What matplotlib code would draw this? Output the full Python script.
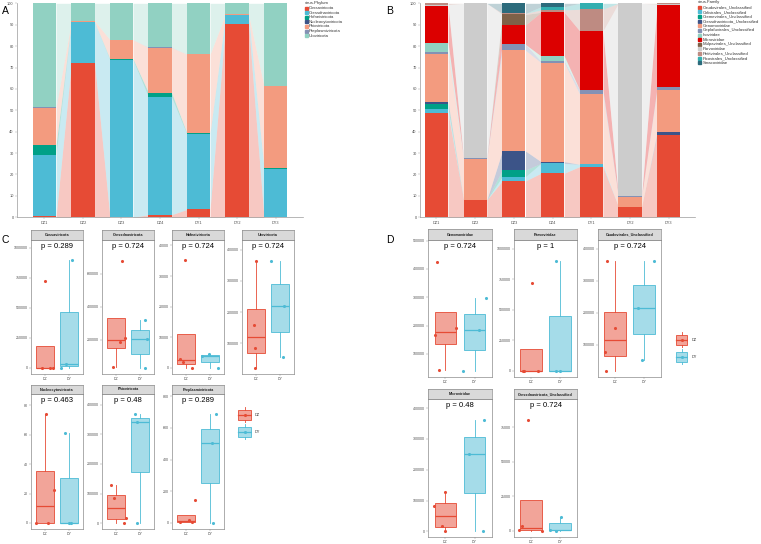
import numpy as np
import matplotlib
matplotlib.use('Agg')
import matplotlib.pyplot as plt
from matplotlib.patches import Rectangle

plt.rcParams['font.family'] = ['Liberation Sans', 'DejaVu Sans']

W, H = 761, 544

# ---------------- data ----------------
samples = ['DZ1', 'DZ2', 'DZ3', 'DZ4', 'DY1', 'DY2', 'DY3']

# Panel A: relative abundance (%) per phylum
phylum_names = ['Cossaviricota', 'Cressdnaviricota', 'Hofneiviricota', 'Nucleocytoviricota',
                'Phixviricota', 'Preplasmiviricota', 'Uroviricota']
cossaviricota = [0.4, 72.3, 0.0, 1.2, 3.7, 90.3, 0.0]
cressdnaviricota = [28.7, 19.1, 73.5, 55.0, 35.1, 4.2, 22.4]
hofneiviricota = [4.7, 0.0, 0.5, 2.1, 0.5, 0.0, 0.6]
nucleocytoviricota = [0.0, 0.0, 0.0, 0.0, 0.0, 0.0, 0.0]
phixviricota = [17.4, 0.4, 9.0, 21.0, 36.9, 0.3, 38.4]
preplasmiviricota = [0.2, 0.0, 0.0, 0.2, 0.0, 0.0, 0.0]
uroviricota = [48.6, 8.2, 17.0, 20.5, 23.8, 5.2, 38.6]
phylum_series = [cossaviricota, cressdnaviricota, hofneiviricota, nucleocytoviricota,
                 phixviricota, preplasmiviricota, uroviricota]

# Panel B: relative abundance (%) per family
family_names = ['Caudovirales_Unclassified', 'Cirlivirales_Unclassified', 'Cremevirales_Unclassified',
                'Cressdnaviricota_Unclassified', 'Genomoviridae', 'Geplafuvirales_Unclassified',
                'Inoviridae', 'Microviridae', 'Mulpavirales_Unclassified', 'Parvoviridae',
                'Petitvirales_Unclassified', 'Picovirales_Unclassified', 'Smacoviridae']
caudovirales_unc = [48.6, 8.1, 17.0, 20.6, 23.7, 5.0, 38.5]
cirlivirales_unc = [2.2, 0.0, 2.0, 4.6, 1.1, 0.0, 0.0]
cremevirales_unc = [2.2, 0.0, 3.1, 0.0, 0.0, 0.0, 0.0]
cressdnaviricota_unc = [0.9, 0.0, 8.9, 0.8, 0.0, 0.0, 1.2]
genomoviridae = [22.3, 19.0, 47.0, 46.3, 32.7, 4.3, 19.8]
geplafuvirales_unc = [0.9, 0.5, 2.8, 0.7, 2.0, 0.5, 1.2]
inoviridae = [4.5, 0.0, 0.0, 2.4, 0.0, 0.0, 0.0]
microviridae = [17.3, 0.0, 9.1, 20.4, 27.6, 0.0, 38.5]
mulpavirales_unc = [0.0, 0.0, 4.9, 0.0, 0.0, 0.0, 0.0]
parvoviridae = [0.5, 72.4, 0.0, 0.0, 0.0, 90.2, 0.4]
petitvirales_unc = [0.6, 0.0, 0.5, 1.1, 10.1, 0.0, 0.4]
picovirales_unc = [0.0, 0.0, 0.0, 1.5, 2.8, 0.0, 0.0]
smacoviridae = [0.0, 0.0, 4.7, 1.6, 0.0, 0.0, 0.0]
family_series = [caudovirales_unc, cirlivirales_unc, cremevirales_unc, cressdnaviricota_unc,
                 genomoviridae, geplafuvirales_unc, inoviridae, microviridae, mulpavirales_unc,
                 parvoviridae, petitvirales_unc, picovirales_unc, smacoviridae]

groups = ['DZ', 'DY']

# Panel C: abundance per phylum (DZ samples, DY samples), p-values, tick values
c_names = ['Cossaviricota', 'Cressdnaviricota', 'Hofneiviricota', 'Uroviricota',
           'Nucleocytoviricota', 'Phixviricota', 'Preplasmiviricota']
c_dz = [[0, 0, 0, 720000], [38000, 186000, 214000, 680000], [0, 1900, 2950, 35200],
        [20000, 83000, 158000, 365000], [0, 0, 22.7, 74], [2000, 19000, 86500, 130000],
        [3, 5, 16, 146]]
c_dy = [[0, 33000, 897000], [30000, 204000, 320000], [0, 3800, 4500],
        [55000, 219000, 363000], [0, 0, 61.4], [2000, 341000, 367000], [0, 506, 686]]
c_p = ['0.289', '0.724', '0.724', '0.724', '0.463', '0.48', '0.289']
c_ticks = [[0, 250000, 500000, 750000, 1000000], [200000, 400000, 600000],
           [0, 10000, 20000, 30000, 40000], [100000, 200000, 300000, 400000],
           [0, 20, 40, 60, 80], [0, 100000, 200000, 300000, 400000], [0, 200, 400, 600, 800]]

# Panel D: abundance per family
d_names = ['Genomoviridae', 'Parvoviridae', 'Caudovirales_Unclassified', 'Microviridae',
           'Cressdnaviricota_Unclassified']
d_dz = [[42000, 167000, 190000, 425000], [0, 0, 0, 723000], [18000, 78000, 151000, 361000],
        [2000, 16300, 81500, 127000], [0, 500, 3150, 80300]]
d_dy = [[40000, 185000, 298000], [0, 1000, 905000], [51000, 213500, 361000],
        [2000, 250000, 362000], [0, 700, 10000]]
d_p = ['0.724', '1', '0.724', '0.48', '0.724']
d_ticks = [[100000, 200000, 300000, 400000, 500000], [0, 250000, 500000, 750000, 1000000],
           [100000, 200000, 300000, 400000], [0, 100000, 200000, 300000, 400000],
           [0, 25000, 50000, 75000]]

# ---------------- style ----------------
phylum_colors = ['#E64B35', '#4DBBD5', '#00A087', '#3C5488', '#F39B7F', '#8491B4', '#91D1C2']
family_colors = ['#E64B35', '#4DBBD5', '#00A087', '#3C5488', '#F39B7F', '#8491B4', '#91D1C2',
                 '#DC0000', '#7E6148', '#CCCCCC', '#BE8B82', '#33AFB0', '#2C6B7C']
grp_colors = ['#E64B35', '#4DBBD5']

# jitter offsets for the points (horizontal only)
c_jit_dz = [[-0.15, 0.21, 0.35, 0.0], [-0.13, 0.17, 0.39, 0.24], [0.25, -0.13, -0.27, -0.06],
            [-0.03, -0.05, -0.08, 0.0], [-0.38, 0.1, 0.38, 0.02], [0.34, 0.41, -0.1, -0.24],
            [-0.27, 0.24, 0.1, 0.38]]
c_jit_dy = [[-0.35, -0.11, 0.15], [0.23, 0.3, 0.23], [0.34, -0.31, -0.03], [0.13, 0.16, -0.38],
            [0.0, 0.1, -0.18], [-0.14, -0.14, -0.21], [0.13, 0.08, 0.28]]
d_jit_dz = [[-0.21, -0.36, 0.36, -0.29], [-0.3, -0.25, 0.25, 0.02], [-0.33, -0.35, -0.02, -0.29],
            [0.0, -0.13, -0.39, -0.02], [0.39, -0.41, -0.33, -0.12]]
d_jit_dy = [[-0.4, 0.14, 0.38], [-0.14, 0.0, -0.12], [-0.08, -0.22, 0.37],
            [0.28, -0.2, 0.34], [-0.14, -0.33, 0.05]]

fig = plt.figure(figsize=(W / 100, H / 100), dpi=100)
fig.patch.set_facecolor('white')


def rect(l, t, r, b):
    return [l / W, 1 - b / H, (r - l) / W, (b - t) / H]


def fx(x):
    return x / W


def fy(y):
    return 1 - y / H


TXT = '#4D4D4D'


def alluvial(ax, series, colors, width=0.6):
    vals = np.array(series, dtype=float)
    x = np.arange(vals.shape[1])
    tops = np.cumsum(vals, axis=0)
    bots = tops - vals
    for k in range(vals.shape[0]):
        ax.bar(x, vals[k], width, bottom=bots[k], color=colors[k], lw=0, zorder=2)
        for i in range(len(x) - 1):
            if vals[k, i] > 0 or vals[k, i + 1] > 0:
                ax.fill_between([x[i] + width / 2, x[i + 1] - width / 2],
                                [bots[k, i], bots[k, i + 1]], [tops[k, i], tops[k, i + 1]],
                                color=colors[k], alpha=0.3, lw=0, zorder=1)
    ax.set_ylim(0, 100)
    ax.set_yticks(range(0, 101, 10))
    ax.set_xticks(x)
    ax.set_xticklabels(samples)
    for s in ['top', 'right']:
        ax.spines[s].set_visible(False)
    for s in ['left', 'bottom']:
        ax.spines[s].set_color('#9A9A9A')
        ax.spines[s].set_linewidth(0.5)
    ax.tick_params(labelsize=2.8, length=1.2, width=0.3, color='#9A9A9A', labelcolor=TXT, pad=1.2)


# Panel A
axA = fig.add_axes(rect(17, 3.3, 303, 217.3))
alluvial(axA, phylum_series, phylum_colors)
axA.set_xlim(-0.714, 6.714)

# Panel B
axB = fig.add_axes(rect(420, 3.3, 695, 217.3))
alluvial(axB, family_series, family_colors)
axB.set_xlim(-0.426, 6.68)


def legend(x0, y0, title, names, colors, text_x):
    fig.text(fx(x0), fy(y0), title, fontsize=3.1, color='#333333', ha='left', va='center')
    for k, (n, c) in enumerate(zip(names, colors)):
        yc = y0 + 5.4 + 4.62 * k
        fig.patches.append(Rectangle((fx(x0), fy(yc + 1.5)), 3 / W, 3 / H, color=c,
                                     transform=fig.transFigure, figure=fig))
        fig.text(fx(text_x), fy(yc), n, fontsize=3.1, color='#333333', ha='left', va='center')


legend(305, 2.6, 'virus.Phylum', phylum_names, phylum_colors, 309)
legend(698, 1.9, 'virus.Family', family_names, family_colors, 702.7)

for lab, (x, y) in zip('ABCD', [(2, 11), (386, 11), (2, 240), (386, 240)]):
    fig.text(fx(x), fy(y), lab, fontsize=7.5, ha='left', va='center', color='black')


def facet(l, r, st, sb, pb, name, dz, dy, p, ticks, jdz, jdy):
    ax = fig.add_axes(rect(l, sb, r, pb))
    sa = fig.add_axes(rect(l, st, r, sb))
    sa.set_facecolor('#D9D9D9')
    sa.set_xticks([])
    sa.set_yticks([])
    for s in sa.spines.values():
        s.set_color('#8C8C8C')
        s.set_linewidth(0.5)
    sa.text(0.5, 0.5, name, fontsize=2.7, fontweight='bold', ha='center', va='center',
            color='#1A1A1A', transform=sa.transAxes)
    for i, (vals, jit) in enumerate([(dz, jdz), (dy, jdy)]):
        c = grp_colors[i]
        ax.boxplot([vals], positions=[i + 1], widths=0.75, patch_artist=True, showfliers=False,
                   whis=1.5,
                   boxprops=dict(facecolor=matplotlib.colors.to_rgba(c, 0.5), edgecolor=c, lw=0.6),
                   medianprops=dict(color=c, lw=0.9),
                   whiskerprops=dict(color=c, lw=0.6),
                   capprops=dict(visible=False))
        ax.scatter(np.array(jit) + i + 1, vals, s=5, color=c, lw=0, zorder=3)
    allv = list(dz) + list(dy)
    lo = min(allv)
    L = 1.13 * max(allv)
    ax.text(1.5, L, f'p = {p}', fontsize=5.5, ha='center', va='center', color='black')
    rng = L - lo
    ax.set_ylim(lo - 0.05 * rng, L + 0.05 * rng)
    ax.set_xlim(0.4, 2.6)
    ax.set_yticks(ticks)
    ax.set_yticklabels([str(t) for t in ticks])
    ax.set_xticks([1, 2])
    ax.set_xticklabels(groups)
    for s in ax.spines.values():
        s.set_color('#8C8C8C')
        s.set_linewidth(0.5)
    ax.tick_params(labelsize=2.6, length=1.2, width=0.3, color='#8C8C8C', labelcolor=TXT, pad=1.0)


c_cols = [(31, 83), (102, 154), (172, 224), (242, 294)]
c_rows = [(230, 240, 374), (385, 394, 529)]
for k in range(len(c_names)):
    row, col = divmod(k, 4)
    l, r = c_cols[col]
    st, sb, pb = c_rows[row]
    facet(l, r, st, sb, pb, c_names[k], c_dz[k], c_dy[k], c_p[k], c_ticks[k],
          c_jit_dz[k], c_jit_dy[k])

d_cols = [(428, 492), (514, 577), (598, 661)]
d_rows = [(229, 240, 377), (389, 399, 537)]
for k in range(len(d_names)):
    row, col = divmod(k, 3)
    l, r = d_cols[col]
    st, sb, pb = d_rows[row]
    facet(l, r, st, sb, pb, d_names[k], d_dz[k], d_dy[k], d_p[k], d_ticks[k],
          d_jit_dz[k], d_jit_dy[k])


def group_legend(l, r, centers, text_x):
    for i, yc in enumerate(centers):
        c = grp_colors[i]
        ka = fig.add_axes(rect(l, yc - 8, r, yc + 8))
        ka.set_xlim(0, 1)
        ka.set_ylim(0, 1)
        ka.axis('off')
        ka.add_patch(Rectangle((0.05, 0.19), 0.9, 0.62, facecolor=matplotlib.colors.to_rgba(c, 0.5),
                               edgecolor=c, lw=0.6))
        ka.plot([0.05, 0.95], [0.5, 0.5], color=c, lw=0.9)
        ka.plot([0.5, 0.5], [0.0, 0.19], color=c, lw=0.6)
        ka.plot([0.5, 0.5], [0.81, 1.0], color=c, lw=0.6)
        ka.scatter([0.5], [0.5], s=5, color=c, lw=0, zorder=3)
        fig.text(fx(text_x), fy(yc), groups[i], fontsize=2.8, color='#333333', ha='left', va='center')


group_legend(237, 252, [415, 432], 254.5)
group_legend(675, 688, [340, 357], 691.5)

fig.savefig('out.png', dpi=100, facecolor='white')
